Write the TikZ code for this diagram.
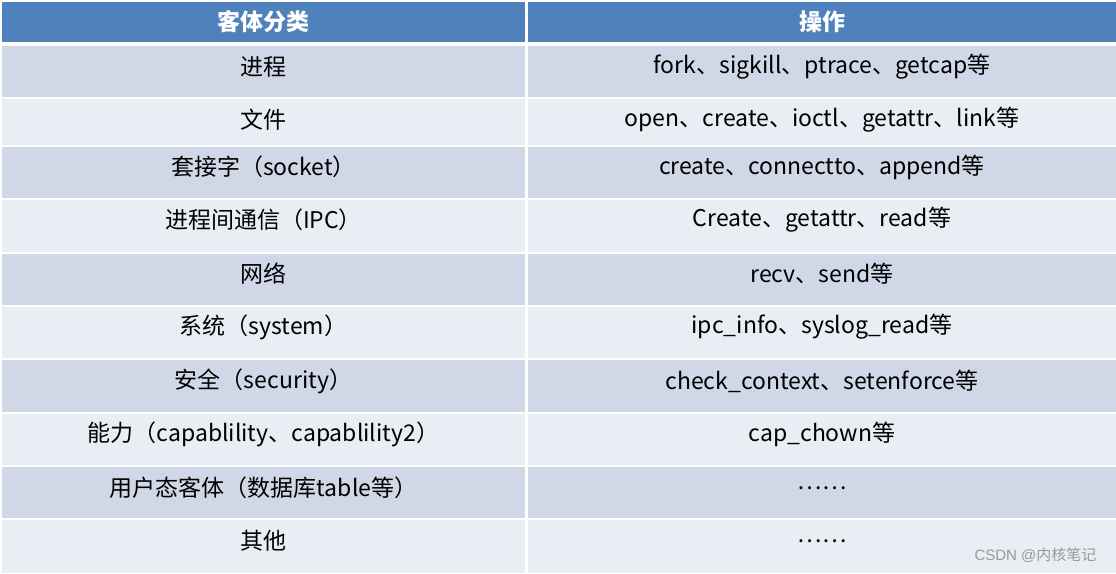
\documentclass[tikz,border=0pt]{standalone}
\usepackage{fontspec}
\setmainfont{Liberation Sans}
\newfontfamily\cjk{Noto Sans CJK SC}
\definecolor{hdr}{HTML}{4F81BD}
\definecolor{dk}{HTML}{D0D8E8}
\definecolor{lt}{HTML}{E9EDF4}
\begin{document}
\begin{tikzpicture}[x=1pt,y=-1pt,
  txt/.style={font=\cjk\fontsize{23}{26}\selectfont,text=black,inner sep=0pt,anchor=center},
  htxt/.style={txt,text=white,font=\cjk\bfseries\fontsize{23}{26}\selectfont}]
\fill[white] (0,0) rectangle (1116,573);
\fill[hdr] (2,2) rectangle (525,42);
\fill[hdr] (528,2) rectangle (1116,42);
\node[htxt] (h1) at (263.5,22) {客体分类};
\node[htxt] (h2) at (822,22) {操作};
\def\rows{46/97/67/dk/进程/{fork、sigkill、ptrace、getcap等},
99/145/120/lt/文件/{open、create、ioctl、getattr、link等},
147/198/167/dk/套接字（socket）/{create、connectto、append等},
200/252/220/lt/进程间通信（IPC）/{Create、getattr、read等},
254/305/274/dk/网络/{recv、send等},
307/358/327/lt/系统（system）/{ipc\_info、syslog\_read等},
360/412/381/dk/安全（security）/{check\_context、setenforce等},
414/465/434/lt/{能力（capablility、capablility2）}/{cap\_chown等},
467/518/488/dk/{用户态客体（数据库table等）}/{……},
520/573/541/lt/其他/{……}}
\foreach \a/\b/\c/\col/\l/\r [count=\i] in \rows {
  \fill[\col] (2,\a) rectangle (525,\b);
  \fill[\col] (528,\a) rectangle (1116,\b);
  \node[txt] (l\i) at (263.5,\c) {\l};
  \node[txt] (r\i) at (822,\c) {\r};
}
\node[font=\fontsize{15}{17}\selectfont,text=gray!80,anchor=east] (wm) at (1100,555) {CSDN @{\cjk 内核笔记}};
\end{tikzpicture}
\end{document}
